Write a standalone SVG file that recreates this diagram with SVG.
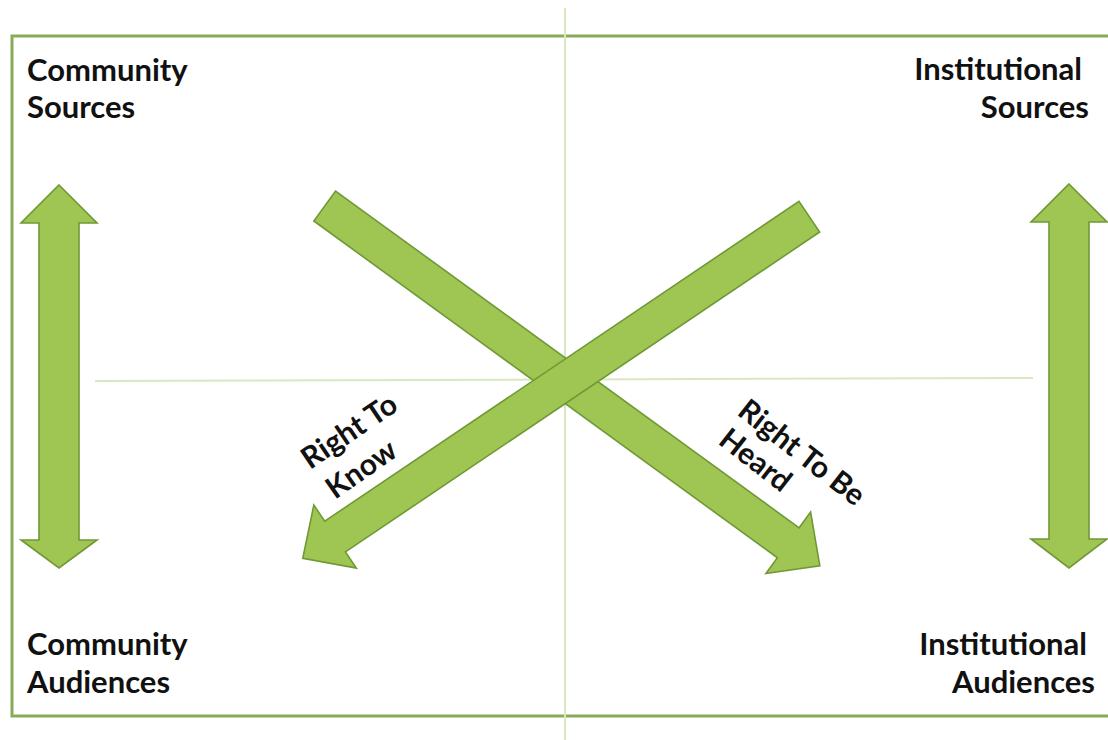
<svg xmlns="http://www.w3.org/2000/svg" width="1108" height="740" viewBox="0 0 1108 740">
<style>
.lbl{font-family:Lato,"Liberation Sans",sans-serif;font-weight:bold;font-size:31px;fill:#111}
.dlbl{font-family:Lato,"Liberation Sans",sans-serif;font-weight:bold;font-size:30px;fill:#111}
.arw{fill:#9fc553;stroke:#6f9936;stroke-width:1.6;stroke-linejoin:miter}
.axis{stroke:#d9e9bf;stroke-width:2;fill:none}
</style>
<rect width="1108" height="740" fill="#fff"/>
<rect id="frame" x="12" y="36" width="1110" height="680" fill="none" stroke="#89ab55" stroke-width="3"/>
<g id="axes">
<line class="axis" x1="565" y1="8" x2="565" y2="740"/>
<line class="axis" x1="95" y1="381" x2="1033" y2="378"/>
</g>
<g id="connectors">
<g id="arrow-heard">
<polygon class="arw" transform="translate(324.7,206) rotate(36)" points="0,-18.5 573,-18.5 573,-38 612,0 573,38 573,18.5 0,18.5"/>
</g>
<g id="arrow-know">
<polygon class="arw" transform="translate(809.3,216.7) rotate(146)" points="0,-18.5 572,-18.5 572,-38 611,0 572,38 572,18.5 0,18.5"/>
</g>
<g id="arrow-left">
<polygon class="arw" points="59,185 97,223 79,223 79,540 97,540 59,568 21,540 39,540 39,223 21,223"/>
</g>
<g id="arrow-right">
<polygon class="arw" points="1069,184 1107,222 1089,222 1089,539 1107,539 1069,568 1031,539 1049,539 1049,222 1031,222"/>
</g>
</g>
<g id="community-sources">
<text class="lbl" x="27" y="81">Community</text>
<text class="lbl" x="27" y="118">Sources</text>
</g>
<g id="institutional-sources">
<text class="lbl" x="1082" y="80" text-anchor="end">Institutional</text>
<text class="lbl" x="1089" y="118" text-anchor="end">Sources</text>
</g>
<g id="community-audiences">
<text class="lbl" x="27" y="655">Community</text>
<text class="lbl" x="27" y="693">Audiences</text>
</g>
<g id="institutional-audiences">
<text class="lbl" x="1087" y="655" text-anchor="end">Institutional</text>
<text class="lbl" x="1095" y="693" text-anchor="end">Audiences</text>
</g>
<g id="label-know">
<text class="dlbl" transform="translate(310,470) rotate(-34)">Right To</text>
<text class="dlbl" transform="translate(335,500) rotate(-35)">Know</text>
</g>
<g id="label-heard">
<text class="dlbl" transform="translate(736,414) rotate(38)">Right To Be</text>
<text class="dlbl" transform="translate(717,443) rotate(38)">Heard</text>
</g>
</svg>
